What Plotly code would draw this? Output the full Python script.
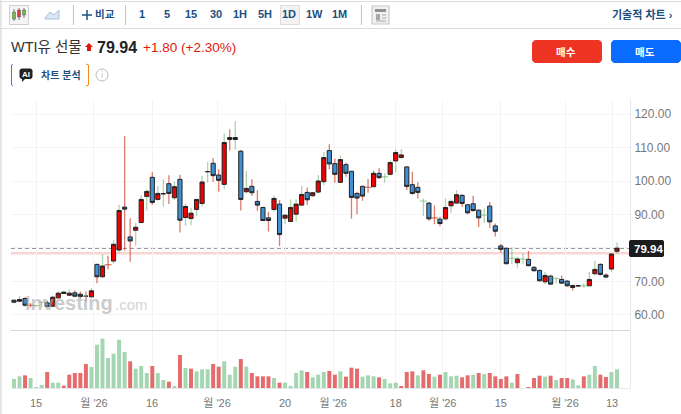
import plotly.graph_objects as go

W, H = 681, 414

opens = [64.4, 64.1, 64.9, 62.9, 62.8, 63.8, 63.6, 62.6, 65.1, 66.4, 65.9, 66.6, 66.2, 65.6, 65.4, 75.1, 71.4, 75.0, 76.1, 79.4,
         92.2, 83.3, 85.3, 87.6, 95.4, 101.1, 94.5, 96.2, 99.2, 95.0, 100.5, 89.1, 88.8, 91.5, 93.3, 102.8, 105.3, 101.8, 99.0, 113.0,
         112.4, 108.9, 96.8, 98.4, 93.9, 92.1, 89.0, 91.5, 93.1, 88.9, 87.9, 90.1, 92.8, 96.6, 95.6, 96.7, 99.8, 109.1, 105.2, 99.6,
         104.9, 102.9, 96.3, 98.4, 98.1, 98.3, 102.3, 101.3, 102.0, 106.0, 107.0, 104.2, 98.9, 98.1, 94.0, 93.4, 89.0, 88.6, 88.7, 92.6,
         93.4, 95.7, 92.9, 93.2, 91.3, 89.8, 92.5, 86.6, 80.6, 79.9, 76.9, 75.6, 76.7, 76.6, 74.2, 73.3, 69.9, 71.6, 70.9, 70.6,
         70.1, 68.2, 68.7, 68.7, 68.7, 72.3, 75.1, 71.9, 73.7, 79.0]
highs = [64.7, 65.7, 65.3, 63.5, 63.0, 63.9, 64.4, 65.7, 67.0, 67.2, 67.7, 67.4, 67.0, 67.0, 68.0, 75.3, 78.2, 77.7, 82.4, 92.9,
         113.4, 88.9, 87.6, 95.8, 97.5, 102.7, 98.5, 100.5, 101.7, 99.8, 101.9, 93.3, 92.0, 94.5, 101.5, 105.7, 106.9, 103.5, 114.2, 115.5,
         117.9, 109.3, 103.0, 100.5, 97.3, 92.3, 90.8, 95.7, 94.3, 90.0, 94.5, 94.5, 98.5, 98.1, 96.8, 101.8, 108.7, 111.0, 106.7, 107.7,
         105.5, 102.9, 96.8, 98.7, 100.6, 103.1, 103.8, 102.3, 106.0, 109.5, 109.5, 104.5, 102.8, 99.6, 94.8, 93.7, 92.7, 89.3, 94.8, 94.3,
         97.3, 96.1, 93.1, 95.6, 91.5, 91.8, 93.7, 87.3, 81.2, 80.2, 80.2, 77.4, 78.4, 79.1, 74.6, 73.6, 72.8, 72.0, 71.2, 71.8,
         70.4, 69.0, 68.9, 69.5, 72.8, 76.2, 75.4, 72.4, 78.4, 81.6]
lows = [63.5, 63.9, 62.5, 62.3, 62.5, 62.5, 62.2, 62.4, 64.9, 66.3, 65.7, 65.3, 64.9, 64.0, 65.2, 69.5, 71.0, 73.6, 75.4, 78.4,
        79.2, 75.9, 80.7, 87.6, 91.2, 92.9, 94.1, 92.4, 93.1, 94.3, 84.6, 86.6, 86.8, 89.6, 92.4, 99.5, 99.8, 96.8, 97.6, 109.1,
        109.5, 91.2, 96.3, 95.5, 91.1, 88.2, 84.9, 90.9, 80.6, 87.2, 87.9, 87.9, 92.5, 92.9, 95.3, 96.3, 98.8, 103.5, 99.5, 99.6,
        101.3, 88.8, 90.1, 94.1, 96.5, 98.3, 100.6, 99.5, 101.7, 102.7, 106.8, 97.3, 95.9, 94.8, 89.5, 88.1, 87.1, 86.5, 88.1, 90.5,
        93.3, 92.3, 90.1, 90.8, 86.3, 87.5, 86.0, 83.4, 78.6, 75.1, 75.2, 73.9, 75.2, 74.6, 73.0, 70.0, 69.2, 69.0, 69.4, 69.3,
        68.4, 67.3, 68.5, 68.1, 68.6, 72.0, 71.8, 71.1, 72.8, 78.2]
closes = [63.8, 64.6, 62.9, 62.9, 62.8, 63.8, 62.5, 65.3, 66.5, 66.8, 66.5, 65.6, 65.5, 65.6, 67.2, 71.4, 74.6, 75.0, 81.1, 91.2,
          91.6, 82.1, 86.2, 94.5, 96.9, 93.6, 96.3, 96.2, 96.3, 98.3, 88.3, 92.4, 90.4, 94.5, 99.7, 102.8, 101.6, 100.2, 111.5, 112.4,
          113.0, 94.5, 97.8, 96.5, 92.8, 88.2, 88.2, 94.8, 84.0, 89.8, 92.1, 93.1, 96.0, 94.4, 96.5, 100.0, 107.0, 105.1, 102.0, 106.4,
          102.3, 95.1, 94.9, 95.5, 98.1, 102.3, 101.0, 101.3, 105.5, 108.5, 107.8, 98.4, 96.3, 96.6, 94.0, 88.7, 89.0, 87.3, 92.1, 93.9,
          95.9, 93.3, 90.5, 91.2, 89.0, 89.8, 87.8, 85.0, 79.6, 75.3, 76.9, 76.7, 76.7, 74.7, 73.2, 70.2, 71.8, 69.2, 70.9, 69.5,
          68.7, 68.8, 68.7, 68.7, 70.6, 73.6, 72.1, 71.3, 78.2, 79.94]
wick_colors = ("ggrrggrggg" "grrrgrgrgg" "rrgggrggrg" "rgggggrrgr" "grgrrrrgrg"
               "gggrgggrrg" "rrrrrrrggg" "grrrgrrrgg" "grrrrgrrrr" "gggrrrgrgr" "rrrgggrrgg")
black_doji = [13, 27, 35, 102]
volumes = [27, 35, 38, 30, 1, 9, 48, 16, 16, 7, 40, 45, 45, 72, 63, 130, 148, 90, 103, 145,
           108, 80, 58, 66, 45, 66, 45, 24, 19, 6, 99, 60, 58, 50, 56, 56, 72, 64, 80, 40,
           64, 87, 64, 45, 35, 35, 35, 30, 16, 16, 6, 45, 53, 48, 32, 40, 48, 51, 40, 50,
           34, 61, 58, 34, 38, 35, 32, 27, 14, 16, 6, 48, 50, 38, 53, 42, 34, 40, 48, 35,
           37, 32, 38, 40, 45, 42, 45, 35, 27, 35, 16, 42, 0, 3, 30, 37, 34, 37, 24, 30,
           30, 26, 8, 35, 40, 66, 40, 33, 48, 56]
volume_colors = ("ggrgggrggr" "rrrrgggggg" "grgggrggrg" "rgrgggrrgg" "grgrrrrgrg"
                 "gggrgggrrg" "rrrgggrggg" "rrrgrrgrgg" "grrgrgrrrr" "grgrrrgrgr" "rggrggrrgg")

tick_vals = [4, 14.46, 24.95, 36.7, 49, 57.7, 69, 77.5, 88, 99.6, 108.1]
tick_text = ["15", "월 '26", "16", "월 '26", "20", "월 '26", "18", "월 '26", "15", "월 '26", "13"]
price_ticks = [60, 70, 80, 90, 100, 110, 120]
price_text = ["60.00", "70.00", "", "90.00", "100.00", "110.00", "120.00"]
last_price = 79.94
pink_level = 78.4
periods = ["1", "5", "15", "30", "1H", "5H", "1D", "1W", "1M"]
period_x = [142, 167, 191, 216, 240, 265, 289, 314, 339]

FONT = "Liberation Sans, Noto Sans CJK KR, sans-serif"
NAVY = "#1d4e7f"
UP_W = "rgba(205,70,50,0.7)"
DOWN_W = "rgba(120,185,115,0.6)"

xs = list(range(len(opens)))


def px(x):
    return x / W


def py(y):
    return 1 - y / H


def rect(x0, y0, x1, y1, fill=None, line=None, lw=1, layer="above"):
    return dict(type="rect", xref="paper", yref="paper", x0=px(x0), x1=px(x1), y0=py(y0), y1=py(y1),
                fillcolor=fill or "rgba(0,0,0,0)", line=dict(color=line or "rgba(0,0,0,0)", width=lw), layer=layer)


def seg(x0, y0, x1, y1, color, lw=1, layer="above"):
    return dict(type="line", xref="paper", yref="paper", x0=px(x0), x1=px(x1), y0=py(y0), y1=py(y1),
                line=dict(color=color, width=lw), layer=layer)


def poly(points, fill=None, line=None, lw=1, close=True):
    p = " ".join(("M" if i == 0 else "L") + f"{px(a):.5f},{py(b):.5f}" for i, (a, b) in enumerate(points))
    return dict(type="path", xref="paper", yref="paper", path=p + (" Z" if close else ""),
                fillcolor=fill or "rgba(0,0,0,0)", line=dict(color=line or "rgba(0,0,0,0)", width=lw), layer="above")


def rrect(x0, y0, x1, y1, r, fill):
    c = 0.3 * r
    p = (f"M{px(x0+r):.5f},{py(y0):.5f} L{px(x1-r):.5f},{py(y0):.5f} "
         f"Q{px(x1-c):.5f},{py(y0+c):.5f} {px(x1):.5f},{py(y0+r):.5f} L{px(x1):.5f},{py(y1-r):.5f} "
         f"Q{px(x1-c):.5f},{py(y1-c):.5f} {px(x1-r):.5f},{py(y1):.5f} L{px(x0+r):.5f},{py(y1):.5f} "
         f"Q{px(x0+c):.5f},{py(y1-c):.5f} {px(x0):.5f},{py(y1-r):.5f} L{px(x0):.5f},{py(y0+r):.5f} "
         f"Q{px(x0+c):.5f},{py(y0+c):.5f} {px(x0+r):.5f},{py(y0):.5f} Z")
    return dict(type="path", xref="paper", yref="paper", path=p, fillcolor=fill, line=dict(width=0), layer="above")


def label(text, x, y, size=11, color=NAVY, anchor="center", bold=False):
    return dict(text=f"<b>{text}</b>" if bold else text, xref="paper", yref="paper", x=px(x), y=py(y),
                xanchor=anchor, yanchor="middle", showarrow=False, font=dict(size=size, color=color, family=FONT))


# coloured dojis are just a small dash, the rest get black bordered bodies
flat = [i for i in xs if opens[i] == closes[i] and i not in black_doji]
solid = [i for i in xs if i not in flat]

fig = go.Figure()
# wicks as thin bars: the bar layer sits under the candle bodies
fig.add_trace(go.Bar(x=xs, y=[h - l for h, l in zip(highs, lows)], base=lows, width=0.24, showlegend=False,
                     marker=dict(color=[UP_W if c == "r" else DOWN_W for c in wick_colors], line=dict(width=0))))
for code, color in (("r", UP_W), ("g", DOWN_W)):
    sel = [i for i in flat if wick_colors[i] == code]
    fig.add_trace(go.Scatter(x=sel, y=[opens[i] for i in sel], mode="markers", showlegend=False, hoverinfo="skip",
                             marker=dict(symbol="line-ew", size=5, line=dict(color=color, width=1.3))))
fig.add_trace(go.Candlestick(
    x=solid,
    open=[opens[i] for i in solid],
    high=[max(opens[i], closes[i]) for i in solid],
    low=[min(opens[i], closes[i]) for i in solid],
    close=[closes[i] for i in solid],
    increasing=dict(fillcolor="#f00000", line=dict(color="#222222", width=1)),
    decreasing=dict(fillcolor="#3f8fd2", line=dict(color="#222222", width=1)),
    showlegend=False,
))
fig.add_trace(go.Bar(x=xs, y=volumes, xaxis="x2", yaxis="y2", width=0.72, showlegend=False,
                     marker=dict(color=["#e56c6c" if c == "r" else "#a5d6b2" for c in volume_colors], line=dict(width=0))))

shapes = [
    # chart lines
    dict(type="line", xref="paper", yref="y", x0=px(11), x1=px(630), y0=pink_level, y1=pink_level,
         line=dict(color="#fbd5d2", width=2.5), layer="below"),
    dict(type="line", xref="paper", yref="y", x0=px(11), x1=px(630), y0=last_price, y1=last_price,
         line=dict(color="#777777", width=1.2, dash="4px,3px"), layer="below"),
    seg(11, 330.5, 630, 330.5, "#d4d4d8", 1.2),
    seg(1, 0, 1, 414, "#dcdcdc", 1.5),
    seg(0, 1.5, 681, 1.5, "#dcdcdc", 1.2),
    seg(0, 28.5, 681, 28.5, "#dcdcdc", 1.2),
    # toolbar
    rect(9.5, 5.5, 28.5, 24.5, "#f4f4f4", "#cfcfcf"),
    seg(14, 9, 14, 21, "#777777"), rect(12.5, 12, 15.5, 19, "#6fbf4f", "#555555", 0.5),
    seg(19, 8, 19, 20, "#777777"), rect(17.5, 10, 20.5, 17, "#e03a3a", "#555555", 0.5),
    seg(24, 8, 24, 18, "#777777"), rect(22.5, 10, 25.5, 15, "#6fbf4f", "#555555", 0.5),
    poly([(45, 18), (50, 12), (54, 15), (59, 10), (59, 19), (45, 19)], "#dbe6f3", "#a9c2de"),
    seg(73.5, 5, 73.5, 25, "#c8c8c8", 1.2),
    seg(125.5, 5, 125.5, 25, "#c8c8c8", 1.2),
    seg(361.5, 5, 361.5, 25, "#c8c8c8", 1.2),
    seg(82, 15, 92, 15, NAVY, 1.5), seg(87, 10, 87, 20, NAVY, 1.5),
    rect(280.5, 5.5, 299.5, 24.5, "#f2f2f2", "#dddddd"),
    rect(372, 6, 389, 24, "#f0f0f0", "#c9c9c9", 1.2),
    rect(375, 9, 386, 12, "#8f8f8f"), rect(376, 14, 380, 20, "#a8a8a8"),
    seg(382, 15, 386, 15, "#a8a8a8"), seg(382, 18, 386, 18, "#a8a8a8"), seg(376, 21, 386, 21, "#a8a8a8"),
    # header bits
    poly([(89, 43), (93, 47), (91, 47), (91, 51), (87, 51), (87, 47), (85, 47)], "#e0190f"),
    rrect(532, 40, 602, 63, 3, "#ee3524"),
    rrect(611, 40, 681, 63, 3, "#0a6cff"),
    poly([(13, 64), (11.5, 65), (11.5, 85), (13, 86)], None, "#6c63d8", 1, close=False),
    poly([(86, 64), (88.5, 65), (88.5, 85), (86, 86)], None, "#f08a24", 1, close=False),
    rrect(19.5, 68.5, 32.5, 79, 2, "#222222"),
    poly([(22, 79), (22, 82), (25, 79)], "#222222"),
    dict(type="circle", xref="paper", yref="paper", x0=px(96), x1=px(108), y0=py(69), y1=py(81),
         line=dict(color="#bdbdbd", width=1), layer="above"),
    # last price tag
    rrect(629, 240, 664, 257, 1.5, "#1c1c1c"),
]

annotations = [
    label("Investing", 23, 303, 20, "rgba(170,170,170,0.62)", "left", True),
    label(".com", 113, 304, 15, "rgba(190,190,190,0.7)", "left"),
    label("비교", 105, 14, 10.5, NAVY, bold=True),
    label("기술적 차트 ›", 675, 14, 11, NAVY, "right", True),
    label("WTI유 선물", 9, 47, 14.5, "#333333", "left"),
    label("79.94", 95, 47, 16, "#222222", "left", True),
    label("+1.80", 141, 47, 13.5, "#e0190f", "left"),
    label("(+2.30%)", 179, 47, 13.5, "#e0190f", "left"),
    label("매수", 566, 52, 10.5, "white", bold=True),
    label("매도", 645, 52, 10.5, "white", bold=True),
    label("AI", 26, 74, 8, "white", bold=True),
    label("차트 분석", 60.5, 75, 10, NAVY, bold=True),
    label("i", 102, 75, 9, "#bdbdbd"),
    label(f"{last_price:.2f}", 648, 249, 11.5, "white", bold=True),
]
annotations += [label(p, x, 14, 11, NAVY, bold=True) for p, x in zip(periods, period_x)]

fig.update_layout(
    width=W, height=H, margin=dict(l=0, r=0, t=0, b=0),
    paper_bgcolor="white", plot_bgcolor="white",
    showlegend=False, boxgap=0.25, boxgroupgap=0, barmode="overlay", hovermode=False,
    font=dict(family=FONT, size=12, color="#777777"),
    shapes=shapes, annotations=annotations,
    xaxis=dict(domain=[px(11), px(630)], range=[-0.54, 111.35], anchor="y", rangeslider=dict(visible=False),
               tickvals=tick_vals, showticklabels=False, showgrid=True, gridcolor="#f4f4f6", zeroline=False, ticks=""),
    yaxis=dict(domain=[py(330), py(100)], range=[55.5, 124.2], side="right", anchor="x",
               tickvals=price_ticks, ticktext=price_text, showgrid=True, gridcolor="#f4f4f6", zeroline=False,
               ticks="outside", ticklen=1, tickcolor="rgba(0,0,0,0)", showline=True, linecolor="#e6e8ef",
               tickfont=dict(size=12, color="#777777")),
    xaxis2=dict(domain=[px(11), px(630)], range=[-0.54, 111.35], anchor="y2", tickvals=tick_vals, ticktext=tick_text,
                showgrid=True, gridcolor="#f4f4f6", zeroline=False, ticks="outside", ticklen=5, tickcolor="rgba(0,0,0,0)",
                showline=True, linecolor="#e6e8ef", tickfont=dict(size=11, color="#777777")),
    yaxis2=dict(domain=[py(388), py(331)], range=[0, 171], side="right", anchor="x2", showgrid=False, zeroline=False,
                showticklabels=False, showline=True, linecolor="#e6e8ef"),
)

fig.write_html("out.html", config={"displayModeBar": False},
               post_script="document.body.style.margin='0';document.body.style.overflow='hidden';")
